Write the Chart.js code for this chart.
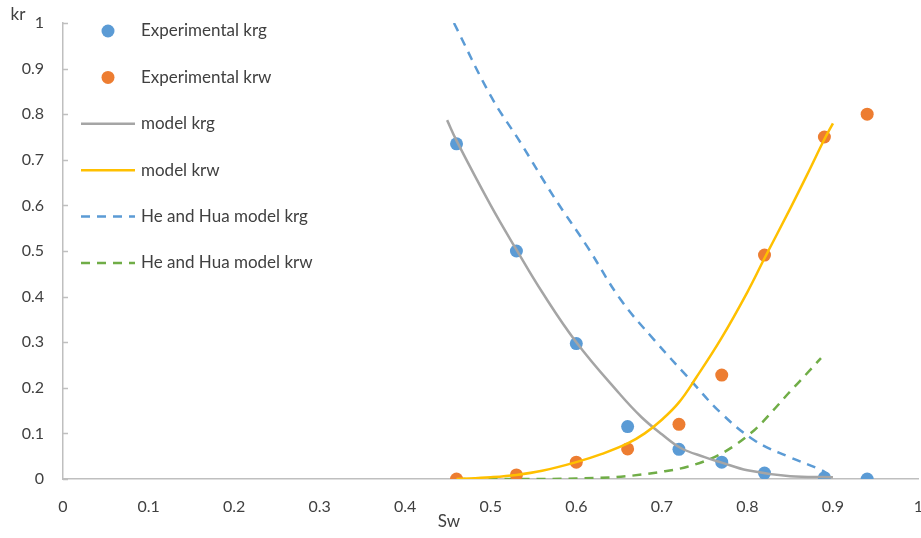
<!DOCTYPE html>
<html>
<head>
<meta charset="utf-8">
<script src="https://cdn.jsdelivr.net/npm/chart.js@4.4.1/dist/chart.umd.min.js"></script>
<style>
  html, body { margin: 0; padding: 0; background: #fff; overflow: hidden; }
  #wrap { width: 925px; height: 538px; position: relative; }
</style>
</head>
<body>
<div id="wrap"><canvas id="chart"></canvas></div>
<script>
// experimental points
const expSw = [0.46, 0.53, 0.60, 0.66, 0.72, 0.77, 0.82, 0.89, 0.94];
const expKrg = [0.735, 0.50, 0.297, 0.115, 0.065, 0.037, 0.013, 0.003, 0.0];
const expKrw = [0.0, 0.009, 0.037, 0.066, 0.12, 0.228, 0.491, 0.75, 0.80];

// model krg curve
const modelKrgSw = [0.449, 0.46, 0.50, 0.53, 0.56, 0.60, 0.65, 0.676, 0.70, 0.722, 0.75, 0.77, 0.80, 0.85, 0.90];
const modelKrg = [0.787, 0.742, 0.60, 0.503, 0.41, 0.30, 0.188, 0.136, 0.098, 0.068, 0.048, 0.036, 0.019, 0.006, 0.004];

// model krw curve
const modelKrwSw = [0.46, 0.50, 0.53, 0.56, 0.60, 0.63, 0.66, 0.68, 0.70, 0.72, 0.74, 0.77, 0.80, 0.82, 0.85, 0.87, 0.89, 0.90];
const modelKrw = [0.0, 0.004, 0.009, 0.018, 0.037, 0.055, 0.078, 0.10, 0.13, 0.168, 0.222, 0.31, 0.41, 0.484, 0.593, 0.668, 0.745, 0.78];

// He and Hua model
const heKrgSw = [0.457, 0.50, 0.535, 0.574, 0.613, 0.652, 0.691, 0.73, 0.769, 0.808, 0.848, 0.886, 0.895];
const heKrg = [1.0, 0.84, 0.737, 0.618, 0.509, 0.393, 0.305, 0.224, 0.145, 0.085, 0.049, 0.02, 0.009];
const heKrwSw = [0.46, 0.55, 0.60, 0.652, 0.70, 0.73, 0.77, 0.808, 0.83, 0.848, 0.86, 0.886];
const heKrw = [0.0, 0.0, 0.001, 0.005, 0.016, 0.027, 0.056, 0.107, 0.15, 0.188, 0.212, 0.265];

const xTicks = [0, 0.1, 0.2, 0.3, 0.4, 0.5, 0.6, 0.7, 0.8, 0.9, 1];
const yTicks = [0, 0.1, 0.2, 0.3, 0.4, 0.5, 0.6, 0.7, 0.8, 0.9, 1];

const FONT = 'Lato, "Open Sans", sans-serif';
const TEXT = '#404040';
const AXIS = '#BFBFBF';

function pts(xs, ys) {
    return xs.map((x, i) => ({ x: x, y: ys[i] }));
}

const legendItems = [
    { label: 'Experimental krg', color: '#5B9BD5', type: 'dot' },
    { label: 'Experimental krw', color: '#ED7D31', type: 'dot' },
    { label: 'model krg', color: '#A5A5A5', type: 'line' },
    { label: 'model krw', color: '#FFC000', type: 'line' },
    { label: 'He and Hua model krg', color: '#5B9BD5', type: 'dash' },
    { label: 'He and Hua model krw', color: '#70AD47', type: 'dash' }
];

// legend inside the plot, axis titles, inside tick marks on y
const overlay = {
    id: 'overlay',
    afterDraw(chart) {
        const ctx = chart.ctx;
        const ys = chart.scales.y;
        ctx.save();
        ctx.strokeStyle = AXIS;
        ctx.lineWidth = 1.5;
        yTicks.forEach(v => {
            const py = Math.round(ys.getPixelForValue(v)) + 0.5;
            ctx.beginPath();
            ctx.moveTo(ys.right, py);
            ctx.lineTo(ys.right + 5, py);
            ctx.stroke();
        });
        ctx.font = '17px ' + FONT;
        ctx.textBaseline = 'middle';
        legendItems.forEach((it, i) => {
            const y = 31 + i * 46.4;
            if (it.type === 'dot') {
                ctx.beginPath();
                ctx.arc(108, y, 6.5, 0, Math.PI * 2);
                ctx.fillStyle = it.color;
                ctx.fill();
            } else {
                ctx.beginPath();
                ctx.strokeStyle = it.color;
                ctx.lineWidth = 2.5;
                ctx.setLineDash(it.type === 'dash' ? [9, 7] : []);
                ctx.moveTo(81, y);
                ctx.lineTo(135, y);
                ctx.stroke();
                ctx.setLineDash([]);
            }
            ctx.fillStyle = TEXT;
            ctx.textAlign = 'left';
            ctx.fillText(it.label, 141, y);
        });
        ctx.textAlign = 'center';
        ctx.fillText('kr', 18, 15);
        ctx.fillText('Sw', 449, 522);
        ctx.restore();
    }
};

const ctx = document.getElementById('chart').getContext('2d');
new Chart(ctx, {
    type: 'scatter',
    data: {
        datasets: [
            {
                label: 'He and Hua model krg',
                data: pts(heKrgSw, heKrg),
                showLine: true, borderColor: '#5B9BD5', borderWidth: 2.5,
                borderDash: [9, 7], pointRadius: 0, tension: 0.4, order: 6
            },
            {
                label: 'He and Hua model krw',
                data: pts(heKrwSw, heKrw),
                showLine: true, borderColor: '#70AD47', borderWidth: 2.5,
                borderDash: [9, 7], pointRadius: 0, cubicInterpolationMode: 'monotone', order: 5
            },
            {
                label: 'Experimental krg',
                data: pts(expSw, expKrg),
                backgroundColor: '#5B9BD5', borderWidth: 0, pointRadius: 6.5, order: 4
            },
            {
                label: 'Experimental krw',
                data: pts(expSw, expKrw),
                backgroundColor: '#ED7D31', borderWidth: 0, pointRadius: 6.5, order: 3
            },
            {
                label: 'model krg',
                data: pts(modelKrgSw, modelKrg),
                showLine: true, borderColor: '#A5A5A5', borderWidth: 2.5,
                pointRadius: 0, tension: 0.4, order: 2
            },
            {
                label: 'model krw',
                data: pts(modelKrwSw, modelKrw),
                showLine: true, borderColor: '#FFC000', borderWidth: 2.5,
                pointRadius: 0, tension: 0.4, order: 1
            }
        ]
    },
    options: {
        responsive: true,
        maintainAspectRatio: false,
        animation: false,
        layout: { padding: { top: 23, right: 0, left: 0, bottom: 0 } },
        plugins: { legend: { display: false }, tooltip: { enabled: false } },
        scales: {
            x: {
                type: 'linear', min: 0, max: 1,
                afterBuildTicks: s => { s.ticks = xTicks.map(v => ({ value: v })); },
                afterFit: s => { s.height = 59; s.paddingRight = 0; s.paddingLeft = 0; },
                grid: { display: false },
                border: { display: true, color: AXIS, width: 1.5 },
                ticks: { color: TEXT, padding: 10, callback: v => String(v), font: { family: FONT, size: 16 } }
            },
            y: {
                type: 'linear', min: 0, max: 1,
                afterBuildTicks: s => { s.ticks = yTicks.map(v => ({ value: v })); },
                afterFit: s => { s.width = 63; s.paddingTop = 0; s.paddingBottom = 0; },
                grid: { display: false },
                border: { display: true, color: AXIS, width: 1.5 },
                ticks: { color: TEXT, padding: 11, callback: v => String(v), font: { family: FONT, size: 16 } }
            }
        }
    },
    plugins: [overlay]
});
</script>
</body>
</html>
